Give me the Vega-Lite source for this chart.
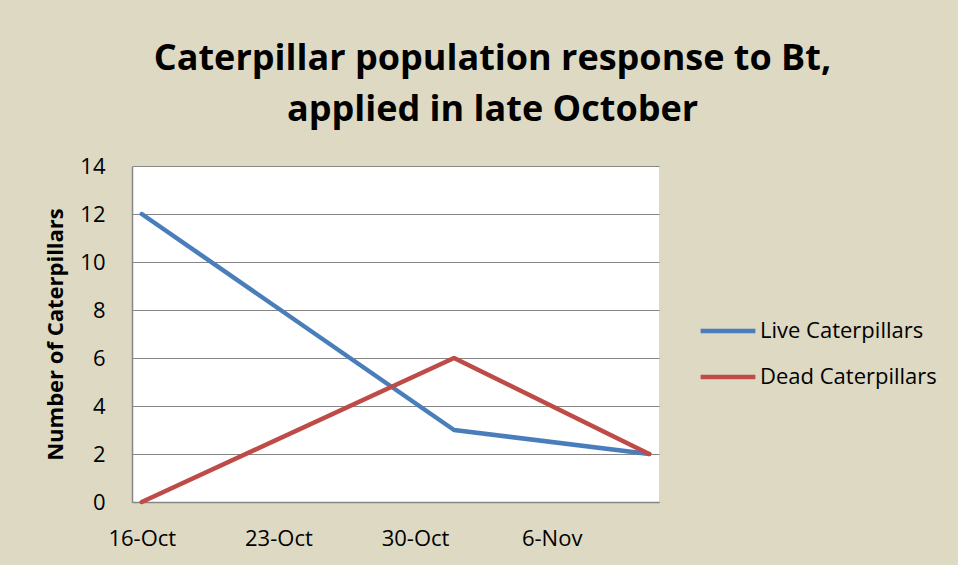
{
  "$schema": "https://vega.github.io/schema/vega-lite/v6.json",
  "width": 527,
  "height": 336,
  "autosize": "none",
  "padding": {"left": 132, "top": 166, "right": 299, "bottom": 63},
  "background": "#DDD9C3",
  "config": {
    "font": "Open Sans",
    "view": {"stroke": null, "fill": "white"}
  },
  "title": {
    "text": ["Caterpillar population response to Bt,", "applied in late October"],
    "anchor": "middle",
    "dx": 97,
    "fontSize": 36,
    "fontWeight": "bold",
    "font": "Open Sans",
    "color": "black",
    "lineHeight": 51,
    "offset": 26
  },
  "data": {
    "values": [
      {"date": "2012-10-16", "series": "Live Caterpillars", "count": 12},
      {"date": "2012-11-01", "series": "Live Caterpillars", "count": 3},
      {"date": "2012-11-11", "series": "Live Caterpillars", "count": 2},
      {"date": "2012-10-16", "series": "Dead Caterpillars", "count": 0},
      {"date": "2012-11-01", "series": "Dead Caterpillars", "count": 6},
      {"date": "2012-11-11", "series": "Dead Caterpillars", "count": 2}
    ]
  },
  "mark": {"type": "line", "strokeWidth": 4.5, "strokeCap": "round", "strokeJoin": "round"},
  "encoding": {
    "x": {
      "field": "date",
      "type": "temporal",
      "scale": {
        "type": "utc",
        "domain": [
          {"year": 2012, "month": 10, "date": 15, "hours": 12, "utc": true},
          {"year": 2012, "month": 11, "date": 11, "hours": 12, "utc": true}
        ]
      },
      "axis": {
        "title": null,
        "values": [
          {"year": 2012, "month": 10, "date": 16, "utc": true},
          {"year": 2012, "month": 10, "date": 23, "utc": true},
          {"year": 2012, "month": 10, "date": 30, "utc": true},
          {"year": 2012, "month": 11, "date": 6, "utc": true}
        ],
        "labelExpr": "utcFormat(datum.value, '%-d-%b')",
        "grid": false,
        "ticks": false,
        "domainColor": "#868686",
        "domainWidth": 1.5,
        "labelFontSize": 22,
        "labelColor": "black",
        "labelPadding": 26,
        "labelFont": "Open Sans"
      }
    },
    "y": {
      "field": "count",
      "type": "quantitative",
      "scale": {"domain": [0, 14], "nice": false},
      "axis": {
        "title": "Number of Caterpillars",
        "titleFontSize": 22,
        "titleFontWeight": "bold",
        "titleColor": "black",
        "titleFont": "Open Sans",
        "titlePadding": 12,
        "values": [0, 2, 4, 6, 8, 10, 12, 14],
        "grid": true,
        "gridColor": "#868686",
        "gridWidth": 1,
        "ticks": false,
        "domainColor": "#868686",
        "domainWidth": 1.5,
        "labelFontSize": 22,
        "labelColor": "black",
        "labelPadding": 27,
        "labelFont": "Open Sans"
      }
    },
    "color": {
      "field": "series",
      "type": "nominal",
      "scale": {
        "domain": ["Live Caterpillars", "Dead Caterpillars"],
        "range": ["#4A7EBB", "#BE4B48"]
      },
      "legend": {
        "title": null,
        "orient": "none",
        "legendX": 566,
        "legendY": 135,
        "symbolType": "stroke",
        "symbolSize": 3000,
        "symbolStrokeWidth": 4.5,
        "labelFontSize": 22,
        "labelColor": "black",
        "labelFont": "Open Sans",
        "labelLimit": 400,
        "labelOffset": 2,
        "rowPadding": 5
      }
    }
  }
}
